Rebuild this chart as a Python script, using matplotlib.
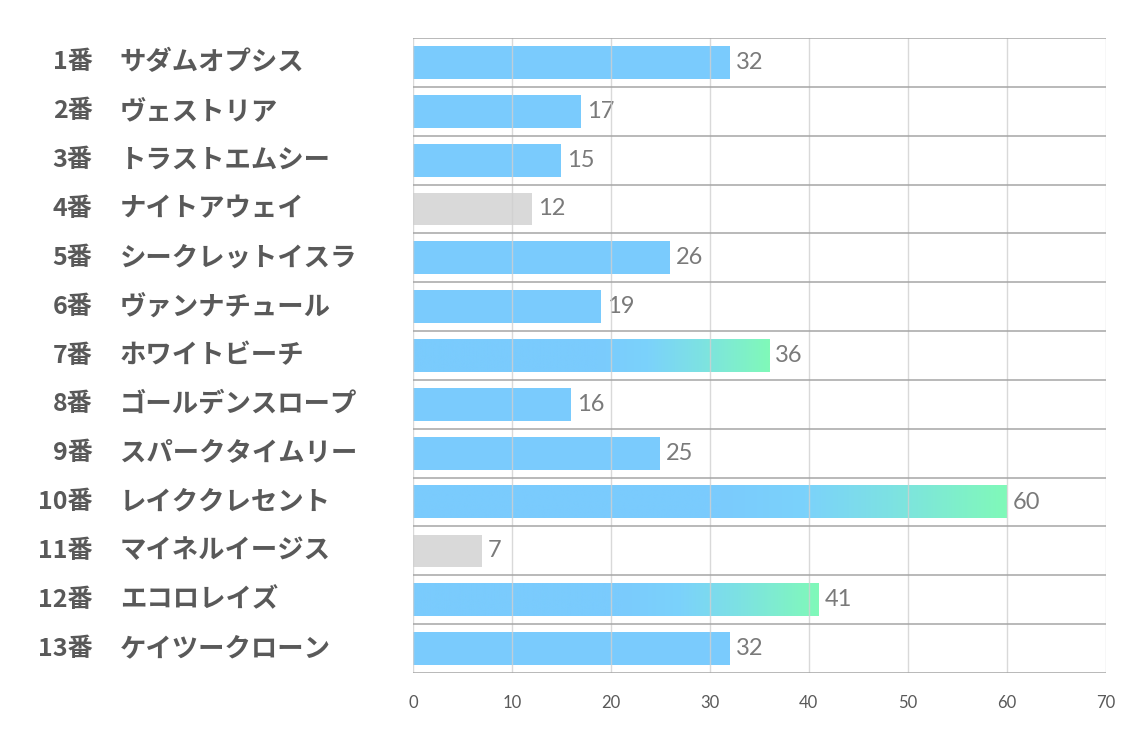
import numpy as np
import matplotlib
matplotlib.use("Agg")
import matplotlib.pyplot as plt
from matplotlib.colors import LinearSegmentedColormap
from matplotlib.transforms import blended_transform_factory

plt.rcParams['font.family'] = ['Noto Sans CJK JP', 'DejaVu Sans']

# horse number, name, value
numbers = ["1番", "2番", "3番", "4番", "5番", "6番", "7番", "8番", "9番",
           "10番", "11番", "12番", "13番"]
names = ["サダムオプシス", "ヴェストリア", "トラストエムシー", "ナイトアウェイ",
         "シークレットイスラ", "ヴァンナチュール", "ホワイトビーチ", "ゴールデンスロープ",
         "スパークタイムリー", "レイククレセント", "マイネルイージス", "エコロレイズ",
         "ケイツークローン"]
values = [32, 17, 15, 12, 26, 19, 36, 16, 25, 60, 7, 41, 32]
xticks = [0, 10, 20, 30, 40, 50, 60, 70]

BLUE = "#7ACBFD"
GREEN = "#80F9B9"
GRAY = "#D9D9D9"
NUMFONT = ["Lato", "DejaVu Sans"]

order = np.argsort(values)
top3 = set(order[-3:])
low2 = set(order[:2])

fig = plt.figure(figsize=(11.34, 7.37), dpi=100)
ax = fig.add_axes([0.3642, 0.0868, 0.9749 - 0.3642, 0.9484 - 0.0868])

n = len(values)
ys = np.arange(n)
h = 0.67
# blue for the first half of the bar, then fading to green
grad = LinearSegmentedColormap.from_list(
    "bg", [(0, BLUE), (0.52, BLUE), (0.66, "#7BD2FB"), (0.81, "#7DE2E2"), (1, GREEN)])
ramp = np.linspace(0, 1, 512).reshape(1, -1)

for i, v in enumerate(values):
    if i in top3:
        ax.imshow(ramp, cmap=grad, aspect="auto", zorder=2,
                  extent=(0, v, ys[i] + h / 2, ys[i] - h / 2))
    else:
        col = GRAY if i in low2 else BLUE
        ax.barh(ys[i], v, height=h, color=col, zorder=2, linewidth=0)
    ax.text(v + 0.6, ys[i], str(v), va="center", ha="left",
            fontsize=17, color="#7A7A7A", family=NUMFONT)

# grid: light verticals, darker row separators
for x in xticks:
    ax.axvline(x, color="#D0D0D0", lw=1, zorder=3, alpha=0.8)
for b in range(n + 1):
    ax.axhline(b - 0.5, color="#A6A6A6", lw=1.1, zorder=3)

ax.set_xlim(0, 70)
ax.set_ylim(n - 0.5, -0.5)
ax.set_xticks(xticks)
ax.set_xticklabels([str(x) for x in xticks], color="#595959", fontsize=12,
                   family=NUMFONT)
ax.tick_params(axis="x", length=0, pad=16)
ax.set_yticks([])
for s in ax.spines.values():
    s.set_visible(False)

tr = blended_transform_factory(fig.transFigure, ax.transData)
for i in range(n):
    ax.text(0.0815, ys[i], numbers[i], transform=tr, ha="right", va="center",
            fontsize=18, fontweight="bold", color="#595959")
    ax.text(0.1055, ys[i], names[i], transform=tr, ha="left", va="center",
            fontsize=19, fontweight="bold", color="#595959")

fig.savefig("out.png", dpi=100, facecolor="white")
